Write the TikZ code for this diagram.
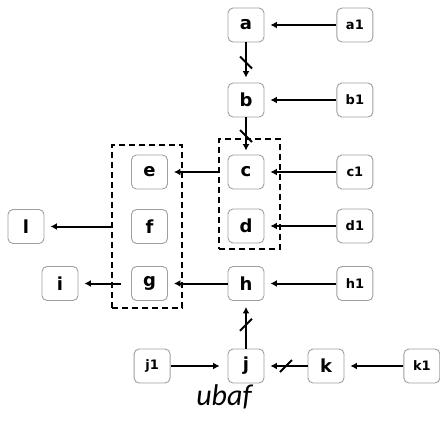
\documentclass[tikz,border=0pt]{standalone}
\usepackage{fontspec}
\setmainfont{DejaVu Sans}
\newfontfamily\labelfont{Carlito}
\usepackage{tikz}
\usetikzlibrary{arrows.meta,positioning,fit,decorations.markings}
\tikzset{
  vbox/.style={draw=gray!75,line width=0.9pt,fill=white,rounded corners=5pt,minimum width=36pt,minimum height=34pt,
     inner sep=0pt,font=\fontsize{18}{18}\selectfont\bfseries},
  vsrc/.style={vbox,font=\fontsize{13}{13}\selectfont\bfseries},
  vgroup/.style={draw,line width=2.2pt,dash pattern=on 6pt off 4pt,inner sep=0pt},
  varr/.style={-{Latex[length=6.5pt,width=7pt]},line width=2pt,shorten >=6pt},
  vslash/.style={-,line width=2pt,shorten >=0pt,shorten <=0pt},
  % crossed-out edge, slash drawn in the edge's own frame
  vcut/.style={varr,postaction={decorate},decoration={markings,
     mark=at position 0.5 with {\draw[vslash] (-6pt,-6pt) -- (6pt,6pt);}}},
  vcutm/.style={varr,postaction={decorate},decoration={markings,
     mark=at position 0.5 with {\draw[vslash] (-6pt,6pt) -- (6pt,-6pt);}}}
}
\begin{document}
\begin{tikzpicture}[x=1pt,y=1pt]
  \useasboundingbox (0,0) rectangle (440,-432);
  % main column
  \node[vbox] (a) at (246,-25) {a};
  \node[vbox] (b) at (246,-100) {b};
  \node[vbox] (c) at (246,-172) {c};
  \node[vbox] (d) at (246,-226) {d};
  \node[vbox] (h) at (246,-283.5) {h};
  \node[vbox] (j) at (246,-366) {j};
  % sources on the right
  \node[vsrc,right=72pt of a] (a1) {a1};
  \node[vsrc,right=72pt of b] (b1) {b1};
  \node[vsrc,right=72pt of c] (c1) {c1};
  \node[vsrc,right=72pt of d] (d1) {d1};
  \node[vsrc,right=72pt of h] (h1) {h1};
  \node[vbox] (k) at (326,-366) {k};
  \node[vsrc,right=59pt of k] (k1) {k1};
  \node[vsrc,left=57pt of j] (j1) {j1};
  % left column
  \node[vbox] (e) at (149.5,-172) {e};
  \node[vbox] (f) at (149.5,-226.5) {f};
  \node[vbox] (g) at (149.5,-283.5) {g};
  \node[vbox] (l) at (26,-226.5) {l};
  \node[vbox] (i) at (60,-283.5) {i};
  % clusters
  \node[vgroup,fit={(112,-145) (182,-308)}] (efg) {};
  \node[vgroup,fit={(219,-139) (280,-249)}] (cd) {};
  \node[font=\labelfont\itshape\fontsize{30}{30}\selectfont] (ubaf) at (224,-397) {ubaf};
  % edges
  \draw[varr] (a1) -- (a); \draw[varr] (b1) -- (b); \draw[varr] (c1) -- (c);
  \draw[varr] (d1) -- (d); \draw[varr] (h1) -- (h); \draw[varr] (k1) -- (k);
  \draw[vcut,shorten >=5pt] (a) -- (b);
  \draw[vcut,shorten >=4pt] (b) -- (c);
  \draw[varr] (cd.west |- c) -- (e);
  \draw[varr] (h) -- (g);
  \draw[varr] (efg.west |- f) -- (l);
  \draw[varr,shorten <=10pt] (g) -- (i);
  \draw[varr,shorten >=8pt] (j1) -- (j);
  \draw[vcut] (k) -- (j);
  \draw[vcutm] (j) -- (h);
\end{tikzpicture}
\end{document}
